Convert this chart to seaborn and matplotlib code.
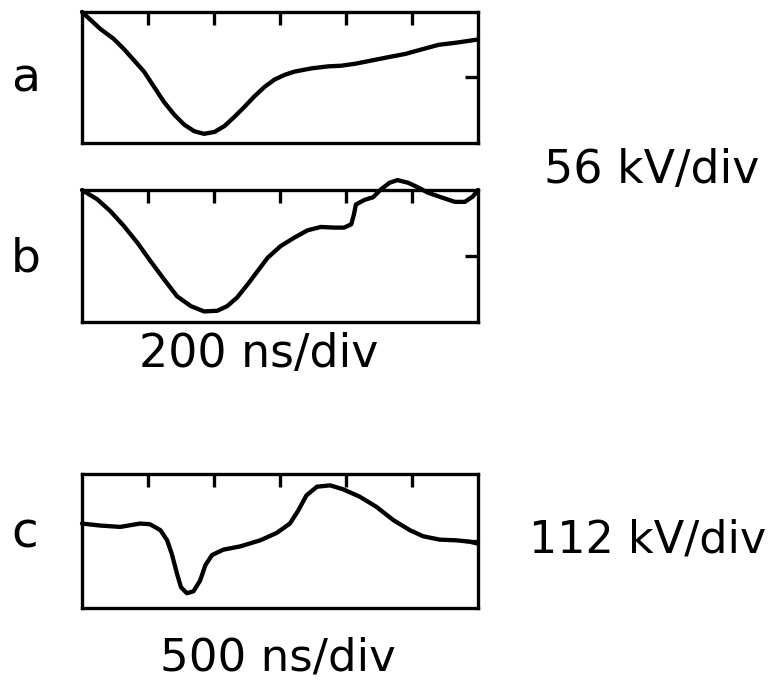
import matplotlib
matplotlib.use("Agg")
import matplotlib.pyplot as plt
import seaborn as sns
import pandas as pd

# traces, x in divisions (0..6), y in divisions (-1..1)
a_x = [0, 0.28, 0.48, 0.63, 0.79, 0.94, 1.09, 1.24, 1.40, 1.55, 1.70, 1.85, 2.01, 2.16,
       2.31, 2.46, 2.61, 2.77, 2.92, 3.07, 3.22, 3.48, 3.73, 3.93, 4.14, 4.39, 4.64, 4.90,
       5.15, 5.41, 5.66, 6.0]
a_y = [1.0, 0.74, 0.59, 0.44, 0.26, 0.09, -0.14, -0.37, -0.57, -0.72, -0.82, -0.86, -0.83, -0.74,
       -0.60, -0.45, -0.29, -0.14, -0.03, 0.04, 0.09, 0.14, 0.17, 0.18, 0.21, 0.26, 0.31, 0.36,
       0.43, 0.50, 0.53, 0.58]

b_x = [0, 0.23, 0.43, 0.63, 0.84, 1.04, 1.24, 1.44, 1.65, 1.85, 2.05, 2.20, 2.35, 2.51,
       2.66, 2.81, 3.01, 3.22, 3.42, 3.62, 3.82, 3.97, 4.08, 4.12, 4.15, 4.28, 4.41, 4.53,
       4.66, 4.78, 4.94, 5.09, 5.24, 5.44, 5.65, 5.80, 5.92, 6.0]
b_y = [1.0, 0.86, 0.68, 0.46, 0.20, -0.08, -0.35, -0.61, -0.76, -0.84, -0.83, -0.76, -0.63, -0.43,
       -0.23, -0.03, 0.15, 0.28, 0.39, 0.44, 0.43, 0.43, 0.48, 0.63, 0.78, 0.85, 0.89, 1.01,
       1.11, 1.15, 1.11, 1.04, 0.96, 0.89, 0.82, 0.82, 0.90, 1.0]

c_x = [0, 0.28, 0.58, 0.88, 1.03, 1.19, 1.29, 1.36, 1.44, 1.50, 1.59, 1.69, 1.79, 1.87,
       1.97, 2.14, 2.40, 2.70, 2.95, 3.15, 3.28, 3.40, 3.56, 3.76, 3.96, 4.21, 4.46, 4.72,
       4.97, 5.17, 5.42, 5.67, 5.87, 6.0]
c_y = [0.26, 0.23, 0.21, 0.26, 0.25, 0.16, 0.01, -0.19, -0.49, -0.69, -0.78, -0.75, -0.59, -0.36,
       -0.21, -0.13, -0.08, 0.01, 0.12, 0.26, 0.46, 0.68, 0.81, 0.83, 0.77, 0.66, 0.51, 0.31,
       0.16, 0.07, 0.02, 0.01, -0.01, -0.04]

panel_labels = ["a", "b", "c"]
scale_labels = ["56 kV/div", "200 ns/div", "112 kV/div", "500 ns/div"]

sns.set_style("white")
plt.rcParams['font.family'] = ['DejaVu Sans']
plt.rcParams['text.color'] = 'black'

fig = plt.figure(figsize=(7.77, 6.81), dpi=100)

# axes boxes in figure fractions
boxes = [(0.1055, 0.790, 0.5097, 0.1924),
         (0.1055, 0.5272, 0.5097, 0.1938),
         (0.1055, 0.1072, 0.5097, 0.1968)]
traces = [(a_x, a_y), (b_x, b_y), (c_x, c_y)]

for box, (xs, ys) in zip(boxes, traces):
    ax = fig.add_axes(box)
    df = pd.DataFrame({"t": xs, "v": ys})
    sns.lineplot(data=df, x="t", y="v", ax=ax, color="black", lw=3.1,
                 sort=False, estimator=None, clip_on=False,
                 solid_joinstyle="round", solid_capstyle="round")
    ax.set_xlim(0, 6)
    ax.set_ylim(-1, 1)
    ax.set_xticks([1, 2, 3, 4, 5])
    ax.set_yticks([0])
    ax.tick_params(direction="in", length=9.5, width=2.4, top=True, right=True,
                   labelbottom=False, labelleft=False, color="black")
    for sp in ax.spines.values():
        sp.set_linewidth(2.4)
        sp.set_color("black")
    ax.set_xlabel("")
    ax.set_ylabel("")

# panel letters
fig.text(26 / 777, 1 - 92 / 681, panel_labels[0], fontsize=34, ha="center", va="baseline")
fig.text(26 / 777, 1 - 272 / 681, panel_labels[1], fontsize=34, ha="center", va="baseline")
fig.text(25 / 777, 1 - 547 / 681, panel_labels[2], fontsize=35, ha="center", va="baseline")

# scale annotations
fig.text(652 / 777, 1 - 183 / 681, scale_labels[0], fontsize=33, ha="center", va="baseline")
fig.text(259 / 777, 1 - 367 / 681, scale_labels[1], fontsize=33, ha="center", va="baseline")
fig.text(648 / 777, 1 - 553 / 681, scale_labels[2], fontsize=32, ha="center", va="baseline")
fig.text(278 / 777, 1 - 670 / 681, scale_labels[3], fontsize=32.5, ha="center", va="baseline")

fig.savefig("out.png", dpi=100)
